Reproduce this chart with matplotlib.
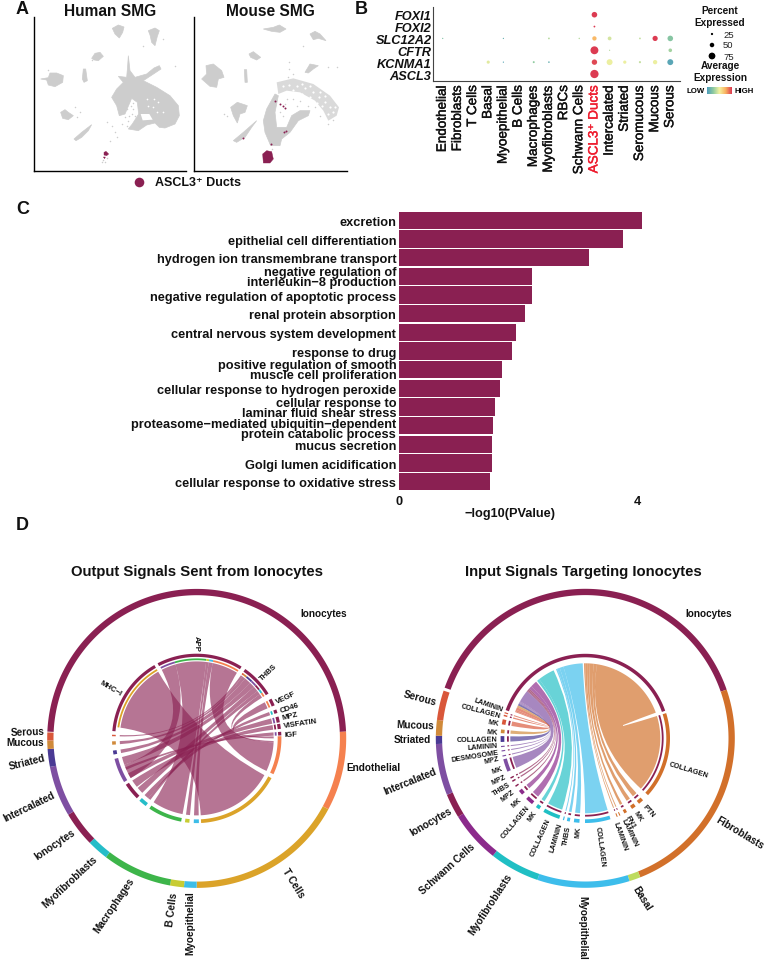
import numpy as np
import matplotlib
matplotlib.use('Agg')
import matplotlib.pyplot as plt
import matplotlib.patheffects as pe
from matplotlib.patches import Polygon, PathPatch
from matplotlib.path import Path
from matplotlib.colors import LinearSegmentedColormap
from matplotlib.transforms import ScaledTranslation

plt.rcParams['font.family'] = ['Liberation Sans', 'DejaVu Sans']

W, H = 766, 962
MAROON = '#8A2052'

# panel A, cell clusters
human_blobs = [
    [(337, 88), (355, 78), (372, 84), (368, 100), (358, 117), (345, 105)],
    [(445, 95), (465, 87), (478, 95), (472, 112), (465, 140), (455, 130), (450, 108)],
    [(275, 178), (285, 163), (300, 160), (310, 172), (295, 185), (283, 183)],
    [(122, 240), (145, 236), (150, 222), (170, 222), (190, 230), (188, 250), (165, 263), (145, 258), (140, 243)],
    [(250, 210), (257, 210), (262, 245), (252, 250), (247, 240)],
    [(385, 170), (390, 215), (405, 235), (440, 225), (462, 207), (478, 200), (483, 210), (465, 222), (430, 245),
     (470, 265), (510, 290), (535, 320), (538, 350), (525, 375), (495, 387), (478, 385), (465, 372), (440, 378),
     (415, 395), (385, 390), (397, 375), (416, 345), (412, 310), (395, 298), (375, 345), (358, 350), (350, 320),
     (335, 295), (350, 270), (370, 250), (355, 232), (380, 235), (383, 200)],
    [(182, 340), (195, 332), (205, 340), (220, 350), (205, 362), (188, 358)],
    [(222, 420), (245, 400), (275, 377), (265, 395), (245, 415), (228, 425)],
]
human_holes = [[(422, 345), (448, 345), (458, 362), (428, 364)]]
human_specks = [(320, 370), (335, 380), (345, 400), (330, 425), (350, 415), (365, 375), (375, 355), (380, 330),
                (395, 345), (392, 320), (315, 490), (310, 482), (322, 478), (305, 490), (225, 325), (240, 340),
                (230, 355), (490, 120), (525, 200), (145, 212), (430, 140), (275, 182), (400, 330), (405, 350),
                (385, 365), (380, 380), (398, 312), (388, 350)]
human_hole_specks = [(460, 325), (475, 310), (445, 320), (490, 340), (470, 340), (440, 300), (462, 300)]
human_cells = [[(312, 460), (318, 457), (326, 465), (320, 470), (312, 468)], [(310, 474), (316, 474), (314, 479)]]

mouse_blobs = [
    [(790, 90), (820, 85), (838, 78), (858, 90), (840, 100), (815, 97)],
    [(930, 105), (945, 97), (960, 105), (978, 125), (955, 118), (940, 122)],
    [(747, 165), (760, 158), (782, 175), (770, 183), (752, 175)],
    [(618, 200), (640, 195), (665, 215), (672, 235), (655, 240), (650, 265), (630, 262), (605, 240), (620, 225)],
    [(733, 212), (740, 212), (742, 250), (735, 250)],
    [(692, 325), (712, 310), (742, 320), (735, 340), (720, 345), (712, 372), (700, 350)],
    [(700, 425), (730, 400), (770, 365), (755, 385), (735, 415), (710, 430)],
    [(915, 220), (930, 195), (955, 200), (940, 210), (925, 222)],
    [(800, 330), (825, 285), (835, 290), (825, 340), (830, 385), (860, 385), (875, 350), (900, 335), (930, 335),
     (925, 350), (895, 365), (870, 400), (845, 420), (840, 440), (812, 440), (795, 400), (790, 365)],
]
mouse_arc = [(830, 250), (880, 238), (940, 255), (990, 290), (1017, 325), (1010, 350), (985, 365), (970, 335),
             (945, 305), (900, 280), (860, 275), (835, 285)]
mouse_specks = [(880, 300), (890, 320), (900, 305), (925, 320), (945, 325), (960, 350), (985, 375), (1000, 362),
                (865, 235), (880, 225), (868, 190), (868, 210), (910, 140), (985, 205), (1012, 205), (672, 345),
                (680, 352), (840, 340), (850, 350), (815, 450), (825, 425), (860, 300), (855, 315)]
mouse_holes = [(868, 258), (892, 262), (915, 268), (938, 280), (958, 295), (975, 310), (990, 325), (1000, 340),
               (880, 272), (905, 285), (930, 295), (950, 312), (965, 322), (985, 345), (1005, 325), (850, 262),
               (905, 255), (930, 262), (960, 280), (975, 290)]
mouse_cells = [[(788, 465), (800, 455), (815, 458), (820, 480), (810, 492), (790, 492)]]
mouse_cell_specks = [(825, 305), (840, 315), (850, 320), (856, 326), (858, 395), (853, 398), (812, 435), (730, 418)]

# panel B
genes = ['FOXI1', 'FOXI2', 'SLC12A2', 'CFTR', 'KCNMA1', 'ASCL3']
cell_types = ['Endothelial', 'Fibroblasts', 'T Cells', 'Basal', 'Myoepithelial', 'B Cells', 'Macrophages',
              'Myofibroblasts', 'RBCs', 'Schwann Cells', 'ASCL3\u207a Ducts', 'Intercalated', 'Striated',
              'Seromucous', 'Mucous', 'Serous']
dot_gene = [0, 1, 2, 2, 2, 2, 2, 2, 2, 2, 2, 3, 3, 3, 4, 4, 4, 4, 4, 4, 4, 4, 4, 4, 5]
dot_cell = [10, 10, 0, 4, 7, 9, 10, 11, 13, 14, 15, 10, 11, 15, 3, 4, 6, 7, 10, 11, 12, 13, 14, 15, 10]
dot_pct = [62, 20, 14, 14, 20, 16, 48, 42, 20, 58, 62, 88, 14, 40, 35, 14, 22, 18, 60, 66, 36, 24, 48, 66, 92]
dot_expr = [1.0, 1.0, .2, .1, .35, .35, .72, .42, .38, 1.0, .22, 1.0, .35, .3, .45, .05, .25, .1, .97, .48, .48,
            .38, .48, .05, 1.0]
legend_pct = [25, 50, 75]

# panel C
terms = ['excretion', 'epithelial cell differentiation', 'hydrogen ion transmembrane transport',
         'negative regulation of\ninterleukin\u22128 production', 'negative regulation of apoptotic process',
         'renal protein absorption', 'central nervous system development', 'response to drug',
         'positive regulation of smooth\nmuscle cell proliferation', 'cellular response to hydrogen peroxide',
         'cellular response to\nlaminar fluid shear stress',
         'proteasome\u2212mediated ubiquitin\u2212dependent\nprotein catabolic process', 'mucus secretion',
         'Golgi lumen acidification', 'cellular response to oxidative stress']
pvals = [4.085, 3.766, 3.193, 2.244, 2.237, 2.11, 1.975, 1.897, 1.735, 1.692, 1.614, 1.579, 1.565, 1.565, 1.529]

# panel D, output chord: sectors run clockwise, angles in degrees
out_sectors = ['Ionocytes', 'Endothelial', 'T Cells', 'Myoepithelial', 'B Cells', 'Macrophages', 'Myofibroblasts',
               'Ionocytes', 'Intercalated', 'Striated', 'Mucous', 'Serous']
out_edges = [177.4, 2.6, -28.3, -90, -94.9, -100.3, -127.4, -135.7, -149.3, -169, -175.9, -179.2, -182.3]
out_colors = [MAROON, '#F5814F', '#DBA329', '#3DBDE8', '#C8CC33', '#3DB54A', '#25BDC8', MAROON, '#7E4FA2', '#4A3A94',
              '#D08A3A', '#D9573A']
# ligand block: start, end
out_ligands = ['MHC\u2212I', 'APP', 'THBS', 'VEGF', 'CD46', 'MPZ', 'VISFATIN', 'IGF']
out_lig_from = [175, 117.5, 55, 28, 20, 15, 10, 4.5]
out_lig_to = [120, 58, 32, 23, 17.5, 11, 6.5, 2]
# ligand arc -> target arc, colour index into out_colors
out_link_a1 = [172, 117, 106, 83, 81, 78, 55, 53.5, 51, 46, 42, 38, 35, 28, 20, 15, 10, 4.5]
out_link_a2 = [120, 106, 83, 81, 78, 58.5, 53.5, 51, 46, 42, 38, 35, 32, 23, 17.5, 11, 6.5, 2]
out_link_b1 = [-28.5, -149, -100.6, -95, -88.5, -3, 178.5, -175.7, -169, -160, -135, -127, -2, 1.5, -129, -149, -141,
               -156]
out_link_b2 = [-87, -160, -124, -98, -92, -25, 177.5, -178, -171.7, -166, -140, -129, -3, 0, -132.6, -153, -146.8,
               -158]
out_link_col = [2, 8, 5, 4, 3, 1, 11, 10, 9, 8, 7, 6, 1, 1, 6, 8, 7, 8]
# target blocks that stay on the lower half
out_target_from = [1.5, -28, -88.5, -95, -100.6, -127, -135, -149, -169, -175.7, 178.5]
out_target_to = [-25, -87, -92, -98, -124, -132.6, -146.8, -166, -171.7, -178, 177.5]
out_target_col = [1, 2, 3, 4, 5, 6, 7, 8, 9, 10, 11]
out_lig_label_ang = [149.5, 90.01, 43, 25, 18.5, 13.5, 8.5, 2.7]

# panel D, input chord
in_sectors = ['Ionocytes', 'Fibroblasts', 'Basal', 'Myoepithelial', 'Myofibroblasts', 'Schwann Cells', 'Ionocytes',
              'Intercalated', 'Striated', 'Mucous', 'Serous']
in_edges = [160.2, 19, -68.4, -72.8, -108.7, -128.2, -148.3, -157.8, -177.8, -181, -187.1, -198.6]
in_colors = [MAROON, '#D2702A', '#BEDB5E', '#3DBDEB', '#20BFC4', '#8B2A8B', MAROON, '#7E4FA2', '#4A3A94', '#D08A3A',
             '#D9573A']
in_ligands = ['COLLAGEN', 'PTN', 'MK', 'FN1', 'LAMININ', 'LAMININ', 'COLLAGEN', 'MK', 'THBS', 'LAMININ', 'COLLAGEN',
              'MK', 'COLLAGEN', 'MK', 'MPZ', 'THBS', 'MPZ', 'MK', 'MPZ', 'DESMOSOME', 'LAMININ', 'COLLAGEN', 'MK',
              'MK', 'COLLAGEN', 'LAMININ']
in_send_from = [17.3, -47, -53.5, -60.5, -65.5, -67.5, -72.7, -94, -100.6, -104.6, -108, -123, -129, -138.3, -145,
                -149, -151.5, -156.8, -167.5, -171, -174, -177.5, 176.5, 170.5, 164.8, 162.8]
in_send_to = [-42.2, -50.6, -56.5, -62.5, -66.2, -68.2, -90.2, -97.8, -102.6, -105.4, -119.7, -125.7, -134.3, -141.6,
              -146, -150, -152.5, -165.6, -168.3, -171.8, -174.8, -181.5, 174, 167, 163.8, 162]
in_recv_from = [81, 83.5, 86.5, 88.5, 90, 91, 107, 110, 112, 113, 128, 130, 136, 138.5, 139.5, 140.5, 141.2, 150.5,
                151.2, 151.8, 152.4, 154, 155.6, 157.6, 158.8, 159.5]
in_recv_to = [20, 81, 83.5, 86.5, 88.5, 90, 92, 107, 110, 112, 115, 128, 131, 136, 138.5, 139.5, 140.5, 141.2, 150.5,
              151.2, 151.8, 152.4, 154, 155.6, 157.6, 158.8]
in_link_col = [1, 1, 1, 1, 1, 1, 3, 3, 3, 3, 4, 4, 5, 5, 6, 6, 6, 7, 7, 7, 7, 8, 9, 10, 10, 10]
in_label_ang = [-17, -48.8, -56, -61.7, -64.8, -70.2, -82.4, -94.5, -100.5, -106.5, -114.4, -124.3, -130, -137.4, -143.7,
                -149, -154.9, -160.5, -167, -171, -175.6, -179.3, 176, 170, 165.3, 161]


def px_axes(x0, y0, x1, y1):
    return fig.add_axes([x0 / W, 1 - y1 / H, (x1 - x0) / W, (y1 - y0) / H])


def pol(cx, cy, r, deg):
    t = np.radians(deg)
    return cx + r * np.cos(t), cy - r * np.sin(t)


def ring(ax, cx, cy, r0, r1, a1, a2, color):
    ang = np.linspace(a1, a2, max(int(abs(a2 - a1)) * 2, 3))
    xo, yo = pol(cx, cy, r1, ang)
    xi, yi = pol(cx, cy, r0, ang[::-1])
    ax.add_patch(Polygon(np.column_stack([np.r_[xo, xi], np.r_[yo, yi]]), closed=True, fc=color, ec='none'))


def ribbon(ax, cx, cy, r, a1, a2, b1, b2, color, alpha):
    verts, codes = [], []
    ang = np.linspace(a1, a2, max(int(abs(a2 - a1)), 2))
    for i, a in enumerate(ang):
        verts.append(pol(cx, cy, r, a))
        codes.append(Path.MOVETO if i == 0 else Path.LINETO)
    verts += [(cx, cy), pol(cx, cy, r, b1)]
    codes += [Path.CURVE3, Path.CURVE3]
    for a in np.linspace(b1, b2, max(int(abs(b2 - b1)), 2))[1:]:
        verts.append(pol(cx, cy, r, a))
        codes.append(Path.LINETO)
    verts += [(cx, cy), pol(cx, cy, r, a1)]
    codes += [Path.CURVE3, Path.CURVE3]
    ax.add_patch(PathPatch(Path(verts, codes), fc=color, ec='none', alpha=alpha))


def radial(ax, cx, cy, r, deg, s, size):
    # deg is kept in -180..180 so the text never ends up upside down
    d = (deg + 180) % 360 - 180
    x, y = pol(cx, cy, r, d)
    if -90 < d < 90:
        ax.text(x, y, s, rotation=d, rotation_mode='anchor', ha='left', va='center', fontsize=size,
                fontweight='bold', color='#111111')
    else:
        rot = d - 180 if d > 0 else d + 180
        ax.text(x, y, s, rotation=rot, rotation_mode='anchor', ha='right', va='center', fontsize=size,
                fontweight='bold', color='#111111')


fig = plt.figure(figsize=(W / 100, H / 100), dpi=100)
canvas = fig.add_axes([0, 0, 1, 1], zorder=5)
canvas.set_xlim(0, W)
canvas.set_ylim(H, 0)
canvas.axis('off')
canvas.patch.set_alpha(0)

# ---- A
for x0, x1, blobs, title, cx in [(34, 186, human_blobs, 'Human SMG', 110), (194, 347, mouse_blobs, 'Mouse SMG', 270)]:
    ax = px_axes(x0, 18, x1, 172)
    ax.set_xlim(x0 * 3, x1 * 3)
    ax.set_ylim(516, 54)
    ax.set_xticks([])
    ax.set_yticks([])
    ax.spines['top'].set_visible(False)
    ax.spines['right'].set_visible(False)
    ax.spines['left'].set_linewidth(1.0)
    ax.spines['bottom'].set_linewidth(1.0)
    for b in blobs:
        ax.add_patch(Polygon(b, closed=True, fc='#CDCDCD', ec='#CDCDCD', lw=0.5))
    if title.startswith('Human'):
        for b in human_holes:
            ax.add_patch(Polygon(b, closed=True, fc='white', ec='none'))
        sx, sy = zip(*human_specks)
        ax.scatter(sx, sy, s=1.2, c='#CDCDCD', lw=0)
        sx, sy = zip(*human_hole_specks)
        ax.scatter(sx, sy, s=1.5, c='white', lw=0)
        for b in human_cells:
            ax.add_patch(Polygon(b, closed=True, fc=MAROON, ec=MAROON, lw=0.3))
    else:
        ax.add_patch(Polygon(mouse_arc, closed=True, fc='#DADADA', ec='none'))
        sx, sy = zip(*mouse_specks)
        ax.scatter(sx, sy, s=1.2, c='#CDCDCD', lw=0)
        sx, sy = zip(*mouse_holes)
        ax.scatter(sx, sy, s=2.5, c='white', lw=0)
        for b in mouse_cells:
            ax.add_patch(Polygon(b, closed=True, fc=MAROON, ec=MAROON, lw=0.3))
        sx, sy = zip(*mouse_cell_specks)
        ax.scatter(sx, sy, s=2, c=MAROON, lw=0)
    canvas.text(cx, 11, title, ha='center', va='center', fontsize=11.2, fontweight='bold', color='#111111')

canvas.scatter([139], [182.5], s=48, c=MAROON, lw=0)
canvas.text(155, 182.5, 'ASCL3\u207a Ducts', ha='left', va='center', fontsize=9, fontweight='bold', color='#111111')
for s, x, y in [('A', 22, 10), ('B', 361, 10), ('C', 23, 209), ('D', 22, 526)]:
    canvas.text(x, y, s, ha='center', va='center', fontsize=13, fontweight='bold', color='#111111')

# ---- B
cmap = LinearSegmentedColormap.from_list('expr', ['#4E9DBB', '#8FCBA0', '#F5F2A0', '#F9B260', '#DC3B52'])
ax = px_axes(433, 8, 680, 82)
ax.set_xlim(-0.64, 15.64)
ax.set_ylim(5.59, -0.65)
ax.scatter(dot_cell, dot_gene, s=(np.array(dot_pct) * 0.09 * 0.72) ** 2, c=dot_expr, cmap=cmap, vmin=0, vmax=1, lw=0)
ax.spines['top'].set_visible(False)
ax.spines['right'].set_visible(False)
ax.spines['left'].set_color('#444444')
ax.spines['bottom'].set_color('#444444')
ax.set_yticks(range(len(genes)))
ax.set_yticklabels(genes, fontsize=9.2, fontweight='bold', fontstyle='italic', color='#111111')
ax.set_xticks(range(len(cell_types)))
ax.set_xticklabels(cell_types, rotation=90, fontsize=9.7, color='#111111')
ax.tick_params(axis='x', length=0, pad=3)
ax.tick_params(axis='y', length=0, pad=1)
for t in ax.get_xticklabels():
    t.set_path_effects([pe.withStroke(linewidth=0.3, foreground='#111111')])
duct = ax.get_xticklabels()[10]
duct.set_color('#EE1C2E')
duct.set_path_effects([pe.withStroke(linewidth=0.3, foreground='#EE1C2E')])
canvas.text(720, 16.5, 'Percent\nExpressed', ha='center', va='center', fontsize=7.2, fontweight='bold',
            linespacing=1.25, color='#111111')
canvas.scatter([712] * 3, [35, 46, 57], s=(np.array(legend_pct) * 0.09 * 0.72) ** 2, c='black', lw=0)
for v, y in zip(legend_pct, [35, 46, 57]):
    canvas.text(723, y, str(v), ha='left', va='center', fontsize=6.8, color='#222222')
canvas.text(720, 72, 'Average\nExpression', ha='center', va='center', fontsize=7.2, fontweight='bold',
            linespacing=1.25, color='#111111')
cax = px_axes(707, 88, 732, 95)
cax.imshow(np.linspace(0, 1, 60)[None, :], aspect='auto', cmap=cmap)
cax.axis('off')
canvas.text(696, 91.5, 'LOW', ha='center', va='center', fontsize=5.6, fontweight='bold')
canvas.text(744, 91.5, 'HIGH', ha='center', va='center', fontsize=5.6, fontweight='bold')

# ---- C
ax = px_axes(399, 212, 642, 492)
ypos = np.arange(len(terms))
ax.barh(ypos, pvals, height=0.93, color=MAROON)
ax.set_xlim(0, 4.085)
ax.set_ylim(14.5, -0.5)
for s in ax.spines.values():
    s.set_visible(False)
ax.set_yticks(ypos)
ax.set_yticklabels(terms, fontsize=9.2, fontweight='bold', linespacing=0.8, color='#111111')
ax.set_xticks([0, 4])
ax.set_xticklabels(['0', '4'], fontsize=9.2, fontweight='bold', color='#111111')
ax.tick_params(length=0, pad=3)
ax.tick_params(axis='y', pad=2)
# the two stacked labels sit too close otherwise
lab = ax.get_yticklabels()[11]
lab.set_transform(lab.get_transform() + ScaledTranslation(0, -2.5 / 100, fig.dpi_scale_trans))
canvas.text(510, 514, '\u2212log10(PValue)', ha='center', va='center', fontsize=9.2, fontweight='bold',
            color='#111111')

# ---- D left
cx, cy = 196.7, 739.4
canvas.text(197, 572, 'Output Signals Sent from Ionocytes', ha='center', va='center', fontsize=10.7,
            fontweight='bold', color='#111111')
for i, c in enumerate(out_colors):
    ring(canvas, cx, cy, 143.2, 149.5, out_edges[i], out_edges[i + 1], c)
for a, b in zip(out_lig_from, out_lig_to):
    ring(canvas, cx, cy, 81.5, 84.7, a, b, MAROON)
for i in range(len(out_link_a1)):
    ring(canvas, cx, cy, 78.2, 80, out_link_a1[i], out_link_a2[i], out_colors[out_link_col[i]])
    ribbon(canvas, cx, cy, 77, out_link_a1[i], out_link_a2[i], out_link_b1[i], out_link_b2[i], MAROON, 0.62)
for a, b, c in zip(out_target_from, out_target_to, out_target_col):
    ring(canvas, cx, cy, 81, 84.7, a, b, out_colors[c])
for s, d in zip(out_ligands, out_lig_label_ang):
    radial(canvas, cx, cy, 87.5, d, s, 5.6)

out_label_xy = [(972, 222, 0), (1040, 685, 0), (880, 1030, -58), (570, 1150, 90), (515, 1108, 83), (342, 1097, 56),
                (210, 1025, 43), (165, 915, 34), (87, 802, 26), (82, 668, 14), (77, 610, 0), (82, 578, 2)]
for s, (x, y, rot) in zip(out_sectors, out_label_xy):
    canvas.text(x / 3, 540 + y / 3, s, rotation=rot, ha='left' if s == 'Endothelial' else 'center', va='center',
                fontsize=7.2, fontweight='bold', color='#111111', rotation_mode='anchor')

# ---- D right
cx, cy = 585.3, 739.3
canvas.text(583, 572, 'Input Signals Targeting Ionocytes', ha='center', va='center', fontsize=10.7,
            fontweight='bold', color='#111111')
for i, c in enumerate(in_colors):
    ring(canvas, cx, cy, 143.2, 149.5, in_edges[i], in_edges[i + 1], c)
ring(canvas, cx, cy, 81, 84.5, 160.5, 19, MAROON)
for i in range(len(in_ligands)):
    c = in_colors[in_link_col[i]]
    ring(canvas, cx, cy, 81, 84.7, in_send_from[i], in_send_to[i], c)
    ring(canvas, cx, cy, 76.5, 78.3, in_send_from[i], in_send_to[i], MAROON)
    ribbon(canvas, cx, cy, 75, in_recv_from[i], in_recv_to[i], in_send_from[i], in_send_to[i], c, 0.68)
    radial(canvas, cx, cy, 88, in_label_ang[i], in_ligands[i], 5.2)

in_label_xy = [(977, 222, 0), (1070, 880, -31), (778, 1075, -58), (597, 1165, -90), (322, 1095, 57), (192, 987, 42),
               (145, 847, 30), (82, 725, 22), (87, 600, 0), (98, 558, -2), (112, 475, -15)]
for s, (x, y, rot) in zip(in_sectors, in_label_xy):
    canvas.text(383 + x / 3, 540 + y / 3, s, rotation=rot, ha='center', va='center', fontsize=7.2, fontweight='bold',
                color='#111111', rotation_mode='anchor')

fig.savefig('out.png', dpi=100)
